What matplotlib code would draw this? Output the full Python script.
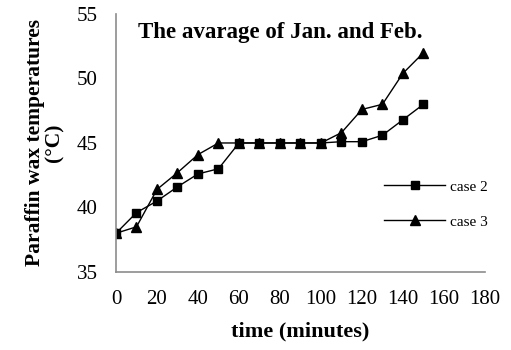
import matplotlib
matplotlib.use("Agg")
import matplotlib.pyplot as plt

# time (minutes)
time = [0, 10, 20, 30, 40, 50, 60, 70, 80, 90, 100, 110, 120, 130, 140, 150]
# paraffin wax temperature (C)
case2 = [38.0, 39.6, 40.5, 41.6, 42.6, 43.0, 45.0, 45.0, 45.0, 45.0, 45.0, 45.1, 45.1, 45.6, 46.8, 48.0]
case3 = [38.0, 38.5, 41.4, 42.7, 44.1, 45.0, 45.0, 45.0, 45.0, 45.0, 45.0, 45.8, 47.6, 48.0, 50.4, 52.0]

xticks = [0, 20, 40, 60, 80, 100, 120, 140, 160, 180]
yticks = [35, 40, 45, 50, 55]

plt.rcParams['font.family'] = ['Liberation Serif', 'DejaVu Serif']

fig = plt.figure(figsize=(5.11, 3.5), dpi=100)
ax = fig.add_axes([0.227, 0.223, 0.722, 0.737])

ax.plot(time, case2, color='black', lw=1.0, marker='s', markersize=6, label='case 2')
ax.plot(time, case3, color='black', lw=1.0, marker='^', markersize=6.5, label='case 3')

ax.set_xlim(0, 180)
ax.set_ylim(35, 55)
ax.set_xticks(xticks)
ax.set_yticks(yticks)
ax.tick_params(length=0, labelsize=15, pad=13)

for side in ['top', 'right']:
    ax.spines[side].set_visible(False)
for side in ['left', 'bottom']:
    ax.spines[side].set_color('0.55')
    ax.spines[side].set_linewidth(1.2)

ax.set_xlabel('time (minutes)', fontsize=16, fontweight='bold', labelpad=9)
ax.set_ylabel('Paraffin wax temperatures\n(°C)', fontsize=15.5, fontweight='bold',
              labelpad=9, linespacing=0.95)

ax.text(0.06, 0.93, 'The avarage of Jan. and Feb.', transform=ax.transAxes,
        fontsize=16.5, fontweight='bold', ha='left', va='center')

ax.legend(loc='upper left', bbox_to_anchor=(0.69, 0.41), frameon=False,
          fontsize=11, labelspacing=1.4, handlelength=4.0, handletextpad=0.3)

fig.savefig('out.png', dpi=100)
